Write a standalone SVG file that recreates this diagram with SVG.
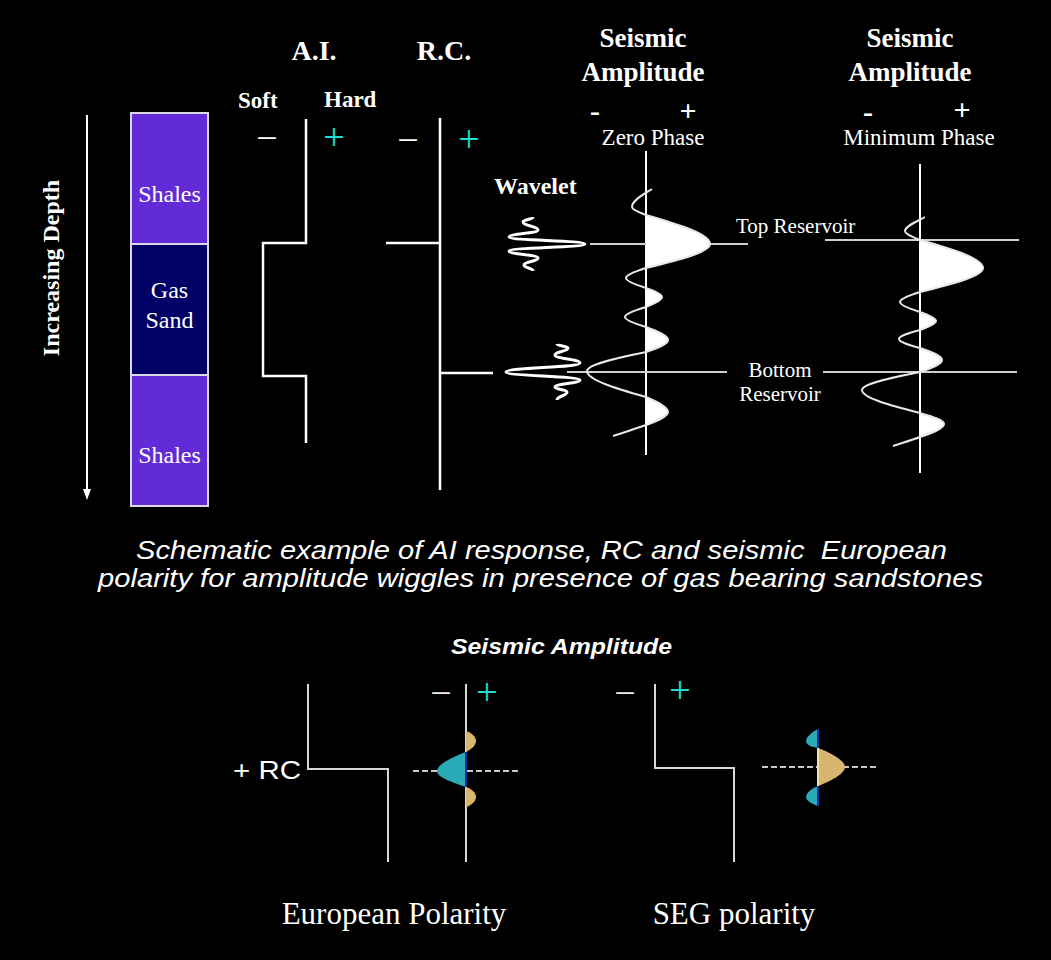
<svg xmlns="http://www.w3.org/2000/svg" width="1051" height="960" viewBox="0 0 1051 960">
<style>
.bg{fill:#000}
.ser{font-family:"Liberation Serif","Times New Roman",serif;fill:#fff}
.b{font-weight:bold}
.sans{font-family:"Liberation Sans",Arial,sans-serif;fill:#fff}
.ln{stroke:#fff;stroke-width:2.5;fill:none}
.thin{stroke:#fff;stroke-width:2;fill:none}
.hz{stroke:#cfcfcf;stroke-width:2;fill:none}
.tr{stroke:#e8e8e8;stroke-width:2;fill:none}
.lobe{fill:#fff}
.wav{stroke:#fff;stroke-width:3;fill:none;stroke-linejoin:round}
.cy{fill:#19e0d0}
.gr{stroke:#d8d8d8;stroke-width:2;fill:none}
.dash{stroke:#c8c8c8;stroke-width:2;stroke-dasharray:6 3;fill:none}
.teal{fill:#2aa9b6}
.tan{fill:#d8b66f}
.sign{font-family:"Liberation Serif","Times New Roman",serif;font-size:38px}
</style>
<rect class="bg" x="0" y="0" width="1051" height="960"/>

<g id="depth-axis">
  <line x1="87" y1="115" x2="87" y2="492" class="thin"/>
  <polygon points="83,489 91,489 87,500" fill="#fff"/>
  <text class="ser b" font-size="24" text-anchor="middle" transform="translate(59,268) rotate(-90)">Increasing Depth</text>
</g>

<g id="lithology-column">
  <rect x="131" y="113" width="77" height="131" fill="#632bd8" stroke="#d8d8e8" stroke-width="2"/>
  <rect x="131" y="244" width="77" height="131" fill="#000066" stroke="#d8d8e8" stroke-width="2"/>
  <rect x="131" y="375" width="77" height="131" fill="#632bd8" stroke="#d8d8e8" stroke-width="2"/>
  <text class="ser" font-size="24" text-anchor="middle" x="169.5" y="202" fill="#eeeaff">Shales</text>
  <text class="ser" font-size="24" text-anchor="middle" x="169.5" y="298" fill="#eeeaff">Gas</text>
  <text class="ser" font-size="24" text-anchor="middle" x="169.5" y="328" fill="#eeeaff">Sand</text>
  <text class="ser" font-size="24" text-anchor="middle" x="169.5" y="463" fill="#eeeaff">Shales</text>
</g>

<g id="ai-log">
  <text class="ser b" font-size="28" text-anchor="middle" x="314" y="60">A.I.</text>
  <text class="ser b" font-size="23" x="238" y="108">Soft</text>
  <text class="ser b" font-size="23" x="324" y="107">Hard</text>
  <text class="sign" x="267" y="151" text-anchor="middle" fill="#fff">−</text>
  <text class="sign cy" x="334" y="150" text-anchor="middle">+</text>
  <polyline class="ln" points="306,119 306,243 263,243 263,376 306,376 306,443"/>
</g>

<g id="rc-log">
  <text class="ser b" font-size="28" text-anchor="middle" x="444" y="60">R.C.</text>
  <text class="sign" x="408" y="153" text-anchor="middle" fill="#fff">−</text>
  <text class="sign cy" x="469" y="152" text-anchor="middle">+</text>
  <line class="ln" x1="440" y1="118" x2="440" y2="490"/>
  <line class="ln" x1="386" y1="243" x2="440" y2="243"/>
  <line class="ln" x1="440" y1="373" x2="493" y2="373"/>
</g>

<g id="wavelets">
  <text class="ser b" font-size="24" x="494" y="194">Wavelet</text>
  <path class="wav" d="M533,217 C533,219.5 523,219.5 523,222 C523,226 538,226 538,230 C538,233.5 509,233.5 509,237 C509,240.5 585,240.5 585,244 C585,247.5 509,247.5 509,251 C509,254.5 538,254.5 538,258 C538,261.5 524,261.5 524,265 C524,268 533,268 533,271"/>
  <path class="wav" d="M557,344 C557,346 568,346 568,348 C568,351.5 555,351.5 555,355 C555,359 580,359 580,363 C580,367.5 506,367.5 506,372 C506,376 580,376 580,380 C580,383.5 555,383.5 555,387 C555,389.5 567,389.5 567,392 C567,396 557,396 557,400"/>
</g>

<g id="zero-phase-trace">
  <text class="ser b" font-size="27" text-anchor="middle" x="643" y="47">Seismic</text>
  <text class="ser b" font-size="27" text-anchor="middle" x="643" y="81">Amplitude</text>
  <text class="ser b" font-size="30" text-anchor="middle" x="595" y="121">-</text>
  <text class="ser b" font-size="30" text-anchor="middle" x="688" y="121">+</text>
  <text class="ser" font-size="23" text-anchor="middle" x="653" y="145">Zero Phase</text>
  <line class="thin" x1="646" y1="151" x2="646" y2="455"/>
  <line class="hz" x1="590" y1="244" x2="748" y2="244"/>
  <line class="hz" x1="567" y1="372" x2="727" y2="372"/>
  <path class="lobe" d="M646,215 C679.5,224.7 710,234.3 710,244 C710,252 679.5,260 646,268 Z"/>
  <path class="lobe" d="M646,288 C654.4,291 662,294 662,297 C662,300.3 654.4,303.7 646,307 Z"/>
  <path class="lobe" d="M646,327 C657.5,331.3 668,335.7 668,340 C668,344 657.5,348 646,352 Z"/>
  <path class="lobe" d="M646,397 C657.5,402 668,407 668,412 C668,416.3 657.5,420.7 646,425 Z"/>
  <path class="tr" d="M652,189 C646,193 632,200 632,207 C632,209.7 638.7,212.3 646,215 C679.5,224.7 710,234.3 710,244 C710,252 679.5,260 646,268 C635.5,271.3 626,274.7 626,278 C626,281.3 635.5,284.7 646,288 C654.4,291 662,294 662,297 C662,300.3 654.4,303.7 646,307 C635,310.3 625,313.7 625,317 C625,320.3 635,323.7 646,327 C657.5,331.3 668,335.7 668,340 C668,344 657.5,348 646,352 C615.1,358.3 587,364.7 587,371 C587,379.7 615.1,388.3 646,397 C657.5,402 668,407 668,412 C668,416.3 657.5,420.7 646,425 C635,429 622,433 613,436"/>
  <text class="ser" font-size="21" x="736" y="233">Top Reservoir</text>
  <text class="ser" font-size="21" text-anchor="middle" x="780" y="377">Bottom</text>
  <text class="ser" font-size="21" text-anchor="middle" x="780" y="401">Reservoir</text>
</g>

<g id="minimum-phase-trace">
  <text class="ser b" font-size="27" text-anchor="middle" x="910" y="47">Seismic</text>
  <text class="ser b" font-size="27" text-anchor="middle" x="910" y="81">Amplitude</text>
  <text class="ser b" font-size="30" text-anchor="middle" x="868" y="122">-</text>
  <text class="ser b" font-size="30" text-anchor="middle" x="962" y="120">+</text>
  <text class="ser" font-size="23" text-anchor="middle" x="919" y="145">Minimum Phase</text>
  <line class="thin" x1="920" y1="164" x2="920" y2="473"/>
  <line class="hz" x1="825" y1="240" x2="1019" y2="240"/>
  <line class="hz" x1="823" y1="372" x2="1017" y2="372"/>
  <path class="lobe" d="M920,240 C953,249.3 983,258.7 983,268 C983,276 953,284 920,292 Z"/>
  <path class="lobe" d="M920,312 C928.4,315 936,318 936,321 C936,324 928.4,327 920,330 Z"/>
  <path class="lobe" d="M920,348 C931.5,352 942,356 942,360 C942,364 931.5,368 920,372 Z"/>
  <path class="lobe" d="M920,413 C932.6,416.7 944,420.3 944,424 C944,428.3 932.6,432.7 920,437 Z"/>
  <path class="tr" d="M925,217 C918,221 905,226 905,231 C905,234 912.1,237 920,240 C953,249.3 983,258.7 983,268 C983,276 953,284 920,292 C909.5,295.3 900,298.7 900,302 C900,305.3 909.5,308.7 920,312 C928.4,315 936,318 936,321 C936,324 928.4,327 920,330 C909,333 899,336 899,339 C899,342 909,345 920,348 C931.5,352 942,356 942,360 C942,364 931.5,368 920,372 C889.6,378 862,384 862,390 C862,397.7 889.6,405.3 920,413 C932.6,416.7 944,420.3 944,424 C944,428.3 932.6,432.7 920,437 C912,440 902,443 893,446"/>
</g>

<g id="caption">
  <text class="sans" font-style="italic" font-size="25" x="136" y="559" textLength="811" lengthAdjust="spacingAndGlyphs" style="white-space:pre">Schematic example of AI response, RC and seismic  European</text>
  <text class="sans" font-style="italic" font-size="25" x="98" y="587" textLength="885" lengthAdjust="spacingAndGlyphs">polarity for amplitude wiggles in presence of gas bearing sandstones</text>
  <text class="sans" font-style="italic" font-weight="bold" font-size="22" x="451" y="654" textLength="221" lengthAdjust="spacingAndGlyphs">Seismic Amplitude</text>
</g>

<g id="european-polarity">
  <text class="sans" font-size="26" x="233" y="779" fill="#dddddd" textLength="68" lengthAdjust="spacingAndGlyphs">+ RC</text>
  <polyline class="gr" points="308,684 308,769 388,769 388,862"/>
  <line class="gr" x1="466" y1="684" x2="466" y2="862"/>
  <text class="sign" x="441" y="706" text-anchor="middle" fill="#eeeeee">−</text>
  <text class="sign cy" x="487" y="705" text-anchor="middle">+</text>
  <line class="dash" x1="413" y1="771" x2="518" y2="771"/>
  <path class="teal" d="M466,752 C455,756 437,764 437,771 C437,778 455,783 466,787 Z"/>
  <path class="tan" d="M466,731 C472,733 476,737 476,741 C476,745 472,749 466,752 Z"/>
  <path class="tan" d="M466,787 C472,789 476,793 476,797 C476,801 472,805 466,807 Z"/>
  <line x1="466" y1="752" x2="466" y2="787" stroke="#1c2aa8" stroke-width="2"/>
  <text class="ser" font-size="31" text-anchor="middle" x="394" y="924" fill="#e0e0e0">European Polarity</text>
</g>

<g id="seg-polarity">
  <polyline class="gr" points="655,684 655,768 734,768 734,862"/>
  <text class="sign" x="625" y="706" text-anchor="middle" fill="#eeeeee">−</text>
  <text class="sign cy" x="680" y="703" text-anchor="middle">+</text>
  <line class="dash" x1="762" y1="767" x2="877" y2="767"/>
  <path class="tan" d="M818,748 C829,752 845,760 845,767 C845,774 829,782 818,786 Z"/>
  <path class="teal" d="M818,729 C812,732 806,737 806,741 C806,745 812,747 818,748 Z"/>
  <path class="teal" d="M818,786 C812,788 806,793 806,797 C806,801 812,804 818,806 Z"/>
  <line x1="818" y1="729" x2="818" y2="748" stroke="#1c2aa8" stroke-width="2"/>
  <line x1="818" y1="786" x2="818" y2="806" stroke="#1c2aa8" stroke-width="2"/>
  <line x1="818" y1="748" x2="818" y2="786" stroke="#f4e6a0" stroke-width="2"/>
  <text class="ser" font-size="31" text-anchor="middle" x="734" y="924" fill="#e0e0e0">SEG polarity</text>
</g>
</svg>
